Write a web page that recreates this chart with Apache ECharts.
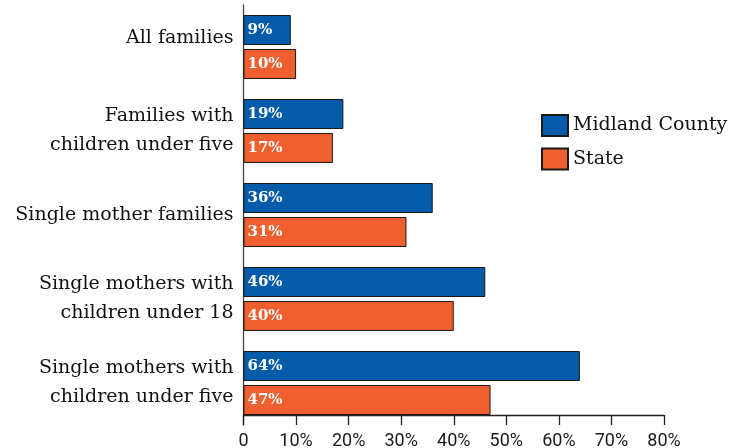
<!DOCTYPE html>
<html>
<head>
<meta charset="utf-8">
<script src="https://cdn.jsdelivr.net/npm/echarts@6/dist/echarts.min.js"></script>
<style>
  html, body { margin: 0; padding: 0; background: #fff; }
  #chart { width: 744px; height: 448px; }
</style>
</head>
<body>
<div id="chart"></div>
<script>
// Share of families in poverty, county vs. state
const categories = [
  'All families',
  'Families with\nchildren under five',
  'Single mother families',
  'Single mothers with\nchildren under 18',
  'Single mothers with\nchildren under five'
];
const countyValues = [9, 19, 36, 46, 64];
const stateValues = [10, 17, 31, 40, 47];
const seriesNames = ['Midland County', 'State'];
const xTicks = { min: 0, max: 80, interval: 10 };

const BLUE = '#035BA9';
const ORANGE = '#F05F2E';
const SERIF = '"DejaVu Serif", Georgia, serif';

const chart = echarts.init(document.getElementById('chart'), null, { renderer: 'canvas' });

const barLabel = {
  show: true,
  position: 'insideLeft',
  distance: 4,
  formatter: '{c}%',
  color: '#fff',
  fontFamily: SERIF,
  fontWeight: 'bold',
  fontSize: 15
};

chart.setOption({
  animation: false,
  backgroundColor: '#fff',
  grid: {
    left: 243.5, right: 80, top: 5, bottom: 23,
    containLabel: false,
    outerBoundsMode: 'none'
  },
  legend: {
    data: seriesNames,
    orient: 'vertical',
    left: 541,
    top: 114,
    padding: 0,
    itemWidth: 26,
    itemHeight: 21,
    itemGap: 10.5,
    icon: 'rect',
    textStyle: { fontFamily: SERIF, fontSize: 19, color: '#111' }
  },
  xAxis: {
    type: 'value',
    min: xTicks.min,
    max: xTicks.max,
    interval: xTicks.interval,
    offset: -10,
    axisLine: { show: true, lineStyle: { color: '#222', width: 1.3 } },
    axisTick: { show: true, length: 10, lineStyle: { color: '#222', width: 1.3 } },
    splitLine: { show: false },
    axisLabel: {
      margin: 17,
      fontFamily: 'Roboto, sans-serif',
      fontSize: 18,
      color: '#1a1a1a',
      formatter: v => (v === 0 ? '0' : v + '%')
    }
  },
  yAxis: {
    type: 'category',
    inverse: true,
    data: categories,
    axisLine: { show: true, lineStyle: { color: '#444', width: 1.3 } },
    axisTick: { show: false },
    axisLabel: {
      margin: 10,
      fontFamily: SERIF,
      fontSize: 19,
      lineHeight: 29,
      color: '#111',
      align: 'right',
      // the single-line first row sits a little above its bars
      formatter: (v, i) => (i === 0 ? '{lift|' + v + '}' : v),
      rich: {
        lift: {
          fontFamily: SERIF,
          fontSize: 19,
          lineHeight: 29,
          color: '#111',
          padding: [0, 0, 18, 0]
        }
      }
    }
  },
  series: [
    {
      name: seriesNames[0],
      type: 'bar',
      data: countyValues,
      barWidth: 30,
      barGap: '13.3%',
      itemStyle: { color: BLUE, borderColor: '#1a1a1a', borderWidth: 1 },
      label: barLabel
    },
    {
      name: seriesNames[1],
      type: 'bar',
      data: stateValues,
      barWidth: 30,
      barGap: '13.3%',
      itemStyle: { color: ORANGE, borderColor: '#1a1a1a', borderWidth: 1 },
      label: barLabel
    }
  ]
});
</script>
</body>
</html>
